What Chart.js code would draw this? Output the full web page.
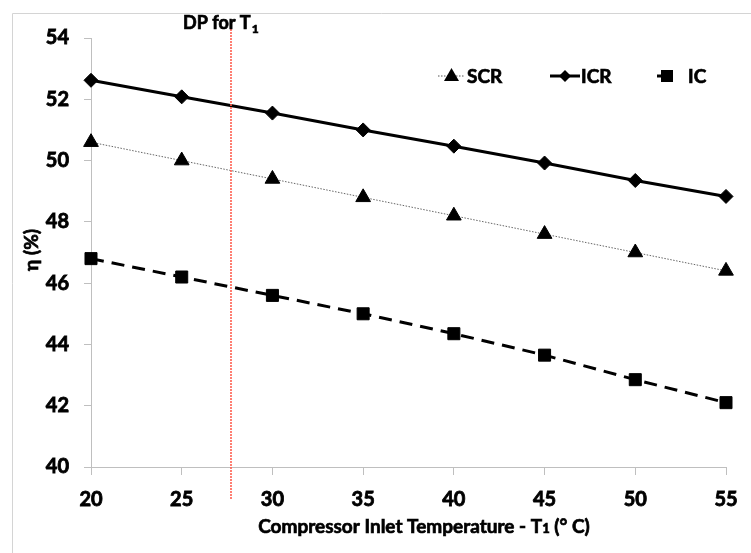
<!DOCTYPE html>
<html>
<head>
<meta charset="utf-8">
<script src="https://cdn.jsdelivr.net/npm/chart.js@4"></script>
<style>
html,body{margin:0;padding:0;background:#fff;}
#wrap{width:751px;height:553px;position:relative;}
</style>
</head>
<body>
<div id="wrap"><canvas id="c" width="751" height="553"></canvas></div>
<script>
const temperatures = [20, 25, 30, 35, 40, 45, 50, 55];
const scrValues = [50.6, 50.0, 49.4, 48.8, 48.2, 47.6, 47.0, 46.4];
const icrValues = [52.62, 52.08, 51.55, 51.0, 50.47, 49.92, 49.35, 48.83];
const icValues = [46.8, 46.2, 45.6, 45.0, 44.35, 43.65, 42.85, 42.1];
const seriesNames = ['SCR', 'ICR', 'IC'];
const designPointT1 = 27.7;
const yTicks = [40, 42, 44, 46, 48, 50, 52, 54];
const xTicks = [20, 25, 30, 35, 40, 45, 50, 55];

const FONT = 'Lato, "Open Sans", sans-serif';
const toPts = arr => arr.map((v, i) => ({x: temperatures[i], y: v}));

function boldText(ctx, txt, x, y) {
  ctx.fillText(txt, x, y);
  ctx.strokeText(txt, x, y);
}

const overlay = {
  id: 'overlay',
  beforeDraw(chart) {
    const ctx = chart.ctx;
    ctx.save();
    ctx.fillStyle = '#fff';
    ctx.fillRect(0, 0, chart.width, chart.height);
    ctx.strokeStyle = '#d4d4d4';
    ctx.lineWidth = 1;
    ctx.beginPath();
    ctx.moveTo(12.5, 553);
    ctx.lineTo(12.5, 13.5);
    ctx.lineTo(751, 13.5);
    ctx.stroke();
    ctx.restore();
  },
  afterDraw(chart) {
    const ctx = chart.ctx;
    const xs = chart.scales.x;
    ctx.save();
    // design point line
    const dx = Math.round(xs.getPixelForValue(designPointT1));
    ctx.strokeStyle = 'rgb(255, 95, 80)';
    ctx.lineWidth = 1.6;
    ctx.setLineDash([2, 1]);
    ctx.beginPath();
    ctx.moveTo(dx, 29);
    ctx.lineTo(dx, 500);
    ctx.stroke();
    ctx.setLineDash([]);
    // texts
    ctx.fillStyle = '#000';
    ctx.strokeStyle = '#000';
    ctx.lineWidth = 0.7;
    ctx.textBaseline = 'alphabetic';
    ctx.textAlign = 'left';
    ctx.font = 'bold 18px ' + FONT;
    const dpText = 'DP for T';
    boldText(ctx, dpText, 183, 29);
    const w1 = ctx.measureText(dpText).width;
    ctx.font = 'bold 12px ' + FONT;
    boldText(ctx, '1', 183 + w1 + 1, 33);
    // x axis title
    const p1 = 'Compressor Inlet Temperature - T';
    const p2 = '1';
    const p3 = ' (° C)';
    ctx.font = 'bold 19px ' + FONT;
    const a = ctx.measureText(p1).width;
    const c = ctx.measureText(p3).width;
    ctx.font = 'bold 13px ' + FONT;
    const b = ctx.measureText(p2).width;
    const total = a + b + c;
    let sx = 424 - total / 2;
    ctx.font = 'bold 19px ' + FONT;
    boldText(ctx, p1, sx, 533);
    ctx.font = 'bold 13px ' + FONT;
    boldText(ctx, p2, sx + a, 533);
    ctx.font = 'bold 19px ' + FONT;
    boldText(ctx, p3, sx + a + b, 533);
    // y axis title
    ctx.translate(32, 250);
    ctx.rotate(-Math.PI / 2);
    ctx.textAlign = 'center';
    ctx.textBaseline = 'middle';
    ctx.font = 'bold 19px ' + FONT;
    boldText(ctx, 'η (%)', 0, 0);
    ctx.restore();

    // legend
    ctx.save();
    const ly = 76;
    ctx.strokeStyle = '#555';
    ctx.lineWidth = 1;
    ctx.setLineDash([1.5, 1.5]);
    ctx.beginPath(); ctx.moveTo(438, ly); ctx.lineTo(465, ly); ctx.stroke();
    ctx.setLineDash([]);
    ctx.fillStyle = '#000';
    ctx.beginPath();
    ctx.moveTo(451.5, ly - 8); ctx.lineTo(459, ly + 5); ctx.lineTo(444, ly + 5); ctx.closePath(); ctx.fill();
    ctx.strokeStyle = '#000';
    ctx.lineWidth = 3;
    ctx.beginPath(); ctx.moveTo(550, ly); ctx.lineTo(580, ly); ctx.stroke();
    ctx.beginPath();
    ctx.moveTo(565, ly - 6); ctx.lineTo(571, ly); ctx.lineTo(565, ly + 6); ctx.lineTo(559, ly); ctx.closePath(); ctx.fill();
    ctx.beginPath(); ctx.moveTo(657, ly); ctx.lineTo(664, ly); ctx.stroke();
    ctx.fillRect(661, ly - 6, 12, 12);
    ctx.font = 'bold 19px ' + FONT;
    ctx.lineWidth = 0.7;
    ctx.textBaseline = 'middle';
    ctx.textAlign = 'left';
    boldText(ctx, seriesNames[0], 467, ly + 1);
    boldText(ctx, seriesNames[1], 581, ly + 1);
    boldText(ctx, seriesNames[2], 688, ly + 1);
    ctx.restore();
  }
};

const tickFont = {family: FONT, size: 20, weight: 'bold'};

new Chart(document.getElementById('c'), {
  type: 'line',
  data: {
    datasets: [
      {
        label: seriesNames[0],
        data: toPts(scrValues),
        borderColor: '#666',
        borderWidth: 1,
        borderDash: [1.5, 1.5],
        pointStyle: 'triangle',
        pointRadius: 8.5,
        pointBackgroundColor: '#000',
        pointBorderColor: '#000',
        pointBorderWidth: 1,
        fill: false,
        clip: false,
        tension: 0
      },
      {
        label: seriesNames[1],
        data: toPts(icrValues),
        borderColor: '#000',
        borderWidth: 3,
        pointStyle: 'rectRot',
        pointRadius: 7,
        pointBackgroundColor: '#000',
        pointBorderColor: '#000',
        pointBorderWidth: 1,
        fill: false,
        clip: false,
        tension: 0
      },
      {
        label: seriesNames[2],
        data: toPts(icValues),
        borderColor: '#000',
        borderWidth: 3,
        borderDash: [13, 8],
        pointStyle: 'rect',
        pointRadius: 8.5,
        pointBackgroundColor: '#000',
        pointBorderColor: '#000',
        pointBorderWidth: 1,
        fill: false,
        clip: false,
        tension: 0
      }
    ]
  },
  options: {
    responsive: false,
    animation: false,
    devicePixelRatio: 1,
    layout: {padding: {left: 0, right: 25, top: 38, bottom: 0}},
    plugins: {legend: {display: false}, tooltip: {enabled: false}, title: {display: false}},
    scales: {
      x: {
        type: 'linear',
        min: 20, max: 55,
        afterFit(s) { s.height = 86; },
        afterBuildTicks(s) { s.ticks = xTicks.map(v => ({value: v})); },
        grid: {drawOnChartArea: false, drawTicks: true, tickLength: 8, color: '#bfbfbf', tickColor: '#bfbfbf'},
        border: {display: true, color: '#bfbfbf', width: 1},
        ticks: {color: '#000', padding: 13, font: tickFont, maxRotation: 0, textStrokeColor: '#000', textStrokeWidth: 0.8}
      },
      y: {
        type: 'linear',
        min: 40, max: 54,
        afterFit(s) { s.width = 91; },
        afterBuildTicks(s) { s.ticks = yTicks.map(v => ({value: v})); },
        grid: {drawOnChartArea: false, drawTicks: true, tickLength: 7, color: '#bfbfbf', tickColor: '#bfbfbf'},
        border: {display: true, color: '#bfbfbf', width: 1},
        ticks: {color: '#000', padding: 15, font: tickFont, textStrokeColor: '#000', textStrokeWidth: 0.8}
      }
    }
  },
  plugins: [overlay]
});
</script>
</body>
</html>
